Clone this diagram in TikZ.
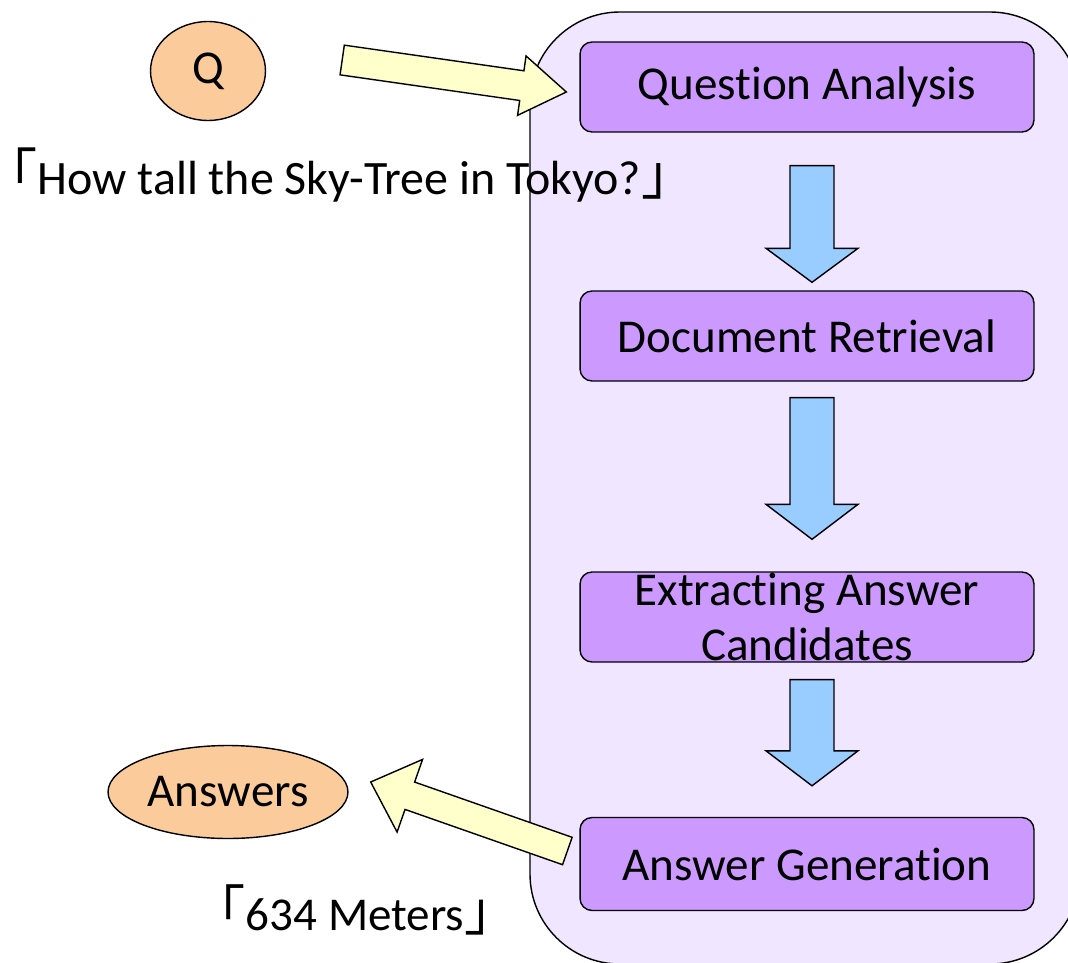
\documentclass[tikz,border=0pt]{standalone}
\usepackage{fontspec}
\setmainfont{Carlito}[Ligatures=NoCommon]
\newfontfamily\cjk{Noto Sans CJK JP}[Scale=1.15]
\usepackage{tikz}
\usetikzlibrary{calc}
\usetikzlibrary{shapes.geometric}
\definecolor{panelfill}{RGB}{240,230,255}
\definecolor{stepfill}{RGB}{204,153,255}
\definecolor{endfill}{RGB}{251,203,155}
\definecolor{yarrowfill}{RGB}{255,255,204}
\definecolor{barrowfill}{RGB}{153,204,255}
\newcommand{\lbr}{{\cjk\kern-0.4em 「}}
\newcommand{\rbr}{{\cjk 」\kern-0.4em}}
% block arrow: style, from, to, shaft half width, head half width, head length
\newcommand{\blockarrow}[6]{%
  \coordinate (ba-h) at ($(#3)!#6!(#2)$);
  \filldraw[#1] ($(#2)!#4!90:(#3)$) -- ($(ba-h)!#4!90:(#3)$) -- ($(ba-h)!#5!90:(#3)$)
    -- (#3) -- ($(ba-h)!#5!-90:(#3)$) -- ($(ba-h)!#4!-90:(#3)$) -- ($(#2)!#4!-90:(#3)$) -- cycle;}
\tikzstyle{panel}=[draw, fill=panelfill, line width=0.8pt, rounded corners=1.8cm]
\tikzstyle{stepbox}=[draw, fill=stepfill, line width=0.8pt, rounded corners=0.24cm,
                     minimum width=9.08cm, minimum height=1.8cm, inner sep=0]
\tikzstyle{endpoint}=[ellipse, draw, fill=endfill, line width=0.8pt, inner sep=0]
\tikzstyle{remark}=[inner sep=0, anchor=west]
\tikzstyle{yarrow}=[fill=yarrowfill, draw, line width=0.8pt, line join=miter]
\tikzstyle{barrow}=[fill=barrowfill, draw, line width=0.8pt, line join=miter]
\tikzstyle{qaflow}=[x=0.02cm, y=-0.02cm,
                    every node/.style={font=\fontsize{26.8}{31.7}\selectfont}]

\begin{document}
\begin{tikzpicture}[qaflow]
    \useasboundingbox (0,0) rectangle (1068,963);
    \begin{scope}
        \clip (0,0) rectangle (1068,963);
        \path[panel] (530,12) rectangle (1080,964);
    \end{scope}

    \node[stepbox] (qa) at (807,87) {Question Analysis};
    \node[stepbox] (dr) at (807,336) {Document Retrieval};
    \node[stepbox, label={[align=center]center:Extracting Answer\\Candidates}] (eac) at (807,617) {};
    \node[stepbox, minimum height=1.86cm] (ag) at (807,864) {Answer Generation};

    \node[endpoint, minimum width=2.3cm, minimum height=1.98cm] (q) at (208,71) {Q};
    \node[endpoint, minimum width=4.8cm, minimum height=1.86cm] (ans) at (228,792) {Answers};
    \node[remark, font=\fontsize{27.3}{32}\selectfont] (qtext) at (4,175) {\lbr How tall the Sky-Tree in Tokyo?\rbr};
    \node[remark] (atext) at (213,910) {\lbr 634 Meters\rbr};

    % yellow arrows in and out
    \coordinate (qa-in-s) at ($(q.east)+(76,-11)$);
    \coordinate (qa-in-e) at ($(qa.west)+(-13,5)$);
    \blockarrow{yarrow}{qa-in-s}{qa-in-e}{0.3cm}{0.6cm}{0.9cm}
    \coordinate (ans-out-s) at ($(ag.west)+(-12,-13)$);
    \coordinate (ans-out-e) at ($(ans.east)+(22,-10)$);
    \blockarrow{yarrow}{ans-out-s}{ans-out-e}{0.29cm}{0.77cm}{0.83cm}

    % blue arrows between steps
    \coordinate (a1s) at ($(qa.south)+(5,33)$);
    \coordinate (a1e) at ($(dr.north)+(5,-8)$);
    \coordinate (a2s) at ($(dr.south)+(5,16)$);
    \coordinate (a2e) at ($(eac.north)+(5,-32)$);
    \coordinate (a3s) at ($(eac.south)+(5,17)$);
    \coordinate (a3e) at ($(ag.north)+(5,-31)$);
    \blockarrow{barrow}{a1s}{a1e}{0.44cm}{0.92cm}{0.68cm}
    \blockarrow{barrow}{a2s}{a2e}{0.44cm}{0.92cm}{0.7cm}
    \blockarrow{barrow}{a3s}{a3e}{0.44cm}{0.92cm}{0.7cm}
\end{tikzpicture}
\end{document}
